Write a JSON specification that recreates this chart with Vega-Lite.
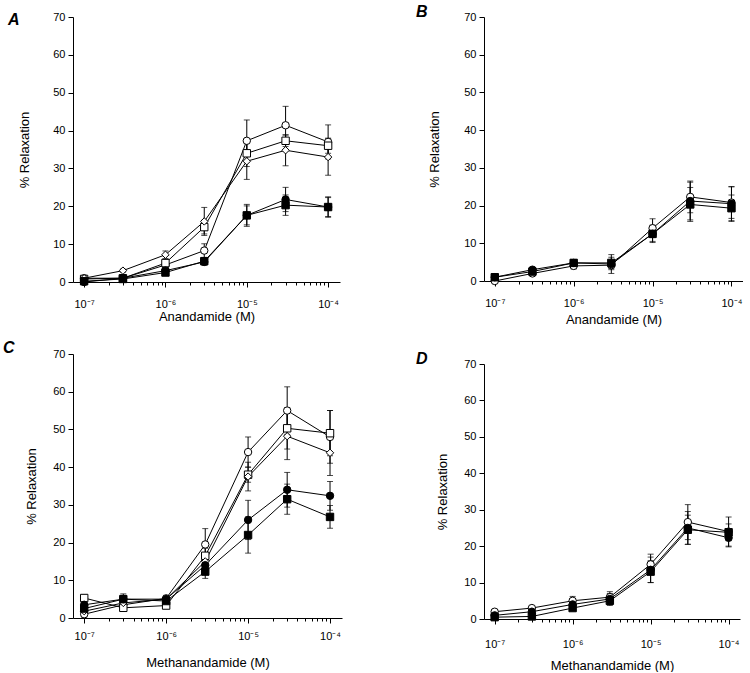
{
"$schema": "https://vega.github.io/schema/vega-lite/v6.json",
"padding": {"left": 3, "top": 4, "right": 0, "bottom": 0},
"background": "white",
"data": {"values": [
{"p":"A","s":"a","x":1e-7,"y":1.0,"lo":0.7,"hi":1.3},
{"p":"A","s":"a","x":3e-7,"y":1.0,"lo":0.6,"hi":1.4},
{"p":"A","s":"a","x":1e-6,"y":4.5,"lo":3.7,"hi":5.3},
{"p":"A","s":"a","x":3e-6,"y":8.3,"lo":6.5,"hi":10.1},
{"p":"A","s":"a","x":1e-5,"y":37.3,"lo":31.8,"hi":42.8},
{"p":"A","s":"a","x":3e-5,"y":41.4,"lo":36.4,"hi":46.4},
{"p":"A","s":"a","x":1e-4,"y":37.0,"lo":32.5,"hi":41.5},
{"p":"A","s":"b","x":1e-7,"y":0.8,"lo":0.5,"hi":1.1},
{"p":"A","s":"b","x":3e-7,"y":1.0,"lo":0.7,"hi":1.3},
{"p":"A","s":"b","x":1e-6,"y":5.0,"lo":4.2,"hi":5.8},
{"p":"A","s":"b","x":3e-6,"y":14.5,"lo":12.7,"hi":16.3},
{"p":"A","s":"b","x":1e-5,"y":34.0,"lo":30.5,"hi":37.5},
{"p":"A","s":"b","x":3e-5,"y":37.3,"lo":35.8,"hi":38.8},
{"p":"A","s":"b","x":1e-4,"y":36.0,"lo":34.0,"hi":38.0},
{"p":"A","s":"c","x":1e-7,"y":1.0,"lo":0.7,"hi":1.3},
{"p":"A","s":"c","x":3e-7,"y":3.0,"lo":2.6,"hi":3.4},
{"p":"A","s":"c","x":1e-6,"y":7.2,"lo":6.2,"hi":8.2},
{"p":"A","s":"c","x":3e-6,"y":16.0,"lo":12.3,"hi":19.7},
{"p":"A","s":"c","x":1e-5,"y":31.9,"lo":27.1,"hi":36.7},
{"p":"A","s":"c","x":3e-5,"y":34.8,"lo":30.7,"hi":38.9},
{"p":"A","s":"c","x":1e-4,"y":33.0,"lo":28.2,"hi":37.8},
{"p":"A","s":"d","x":1e-7,"y":0.0,"lo":0.0,"hi":0.2},
{"p":"A","s":"d","x":3e-7,"y":1.0,"lo":0.7,"hi":1.3},
{"p":"A","s":"d","x":1e-6,"y":3.0,"lo":2.1,"hi":3.9},
{"p":"A","s":"d","x":3e-6,"y":5.3,"lo":4.5,"hi":6.1},
{"p":"A","s":"d","x":1e-5,"y":17.6,"lo":14.7,"hi":20.5},
{"p":"A","s":"d","x":3e-5,"y":21.8,"lo":18.6,"hi":25.0},
{"p":"A","s":"d","x":1e-4,"y":19.8,"lo":17.1,"hi":22.5},
{"p":"A","s":"e","x":1e-7,"y":0.2,"lo":0.0,"hi":0.4},
{"p":"A","s":"e","x":3e-7,"y":0.8,"lo":0.5,"hi":1.1},
{"p":"A","s":"e","x":1e-6,"y":2.5,"lo":1.7,"hi":3.3},
{"p":"A","s":"e","x":3e-6,"y":5.5,"lo":4.7,"hi":6.3},
{"p":"A","s":"e","x":1e-5,"y":17.6,"lo":15.1,"hi":20.1},
{"p":"A","s":"e","x":3e-5,"y":20.3,"lo":17.6,"hi":23.0},
{"p":"A","s":"e","x":1e-4,"y":19.8,"lo":17.3,"hi":22.3},
{"p":"B","s":"a","x":1e-7,"y":0.0,"lo":0.0,"hi":0.3},
{"p":"B","s":"a","x":3e-7,"y":2.0,"lo":1.5,"hi":2.5},
{"p":"B","s":"a","x":1e-6,"y":4.0,"lo":3.2,"hi":4.8},
{"p":"B","s":"a","x":3e-6,"y":4.2,"lo":3.0,"hi":5.4},
{"p":"B","s":"a","x":1e-5,"y":14.0,"lo":11.5,"hi":16.5},
{"p":"B","s":"a","x":3e-5,"y":22.3,"lo":18.1,"hi":26.5},
{"p":"B","s":"a","x":1e-4,"y":20.8,"lo":16.6,"hi":25.0},
{"p":"B","s":"d","x":1e-7,"y":1.0,"lo":0.7,"hi":1.3},
{"p":"B","s":"d","x":3e-7,"y":3.0,"lo":2.5,"hi":3.5},
{"p":"B","s":"d","x":1e-6,"y":4.8,"lo":4.0,"hi":5.6},
{"p":"B","s":"d","x":3e-6,"y":4.5,"lo":2.0,"hi":7.0},
{"p":"B","s":"d","x":1e-5,"y":12.5,"lo":10.2,"hi":14.8},
{"p":"B","s":"d","x":3e-5,"y":21.2,"lo":16.2,"hi":26.2},
{"p":"B","s":"d","x":1e-4,"y":20.5,"lo":16.0,"hi":25.0},
{"p":"B","s":"e","x":1e-7,"y":1.0,"lo":0.7,"hi":1.3},
{"p":"B","s":"e","x":3e-7,"y":2.5,"lo":2.1,"hi":2.9},
{"p":"B","s":"e","x":1e-6,"y":4.8,"lo":4.0,"hi":5.6},
{"p":"B","s":"e","x":3e-6,"y":4.8,"lo":3.3,"hi":6.3},
{"p":"B","s":"e","x":1e-5,"y":12.5,"lo":10.5,"hi":14.5},
{"p":"B","s":"e","x":3e-5,"y":20.3,"lo":15.8,"hi":24.8},
{"p":"B","s":"e","x":1e-4,"y":19.3,"lo":15.8,"hi":22.8},
{"p":"C","s":"a","x":1e-7,"y":1.0,"lo":0.2,"hi":1.8},
{"p":"C","s":"a","x":3e-7,"y":3.5,"lo":2.5,"hi":4.5},
{"p":"C","s":"a","x":1e-6,"y":5.2,"lo":4.4,"hi":6.0},
{"p":"C","s":"a","x":3e-6,"y":19.5,"lo":15.3,"hi":23.7},
{"p":"C","s":"a","x":1e-5,"y":44.0,"lo":40.0,"hi":48.0},
{"p":"C","s":"a","x":3e-5,"y":55.0,"lo":48.7,"hi":61.3},
{"p":"C","s":"a","x":1e-4,"y":48.0,"lo":41.0,"hi":55.0},
{"p":"C","s":"b","x":1e-7,"y":5.3,"lo":4.5,"hi":6.1},
{"p":"C","s":"b","x":3e-7,"y":2.7,"lo":2.1,"hi":3.3},
{"p":"C","s":"b","x":1e-6,"y":3.3,"lo":2.7,"hi":3.9},
{"p":"C","s":"b","x":3e-6,"y":16.5,"lo":14.5,"hi":18.5},
{"p":"C","s":"b","x":1e-5,"y":38.0,"lo":36.0,"hi":40.0},
{"p":"C","s":"b","x":3e-5,"y":50.3,"lo":44.8,"hi":55.8},
{"p":"C","s":"b","x":1e-4,"y":49.0,"lo":43.0,"hi":55.0},
{"p":"C","s":"c","x":1e-7,"y":1.8,"lo":1.2,"hi":2.4},
{"p":"C","s":"c","x":3e-7,"y":4.0,"lo":3.2,"hi":4.8},
{"p":"C","s":"c","x":1e-6,"y":5.0,"lo":4.4,"hi":5.6},
{"p":"C","s":"c","x":3e-6,"y":15.0,"lo":13.0,"hi":17.0},
{"p":"C","s":"c","x":1e-5,"y":37.5,"lo":33.7,"hi":41.3},
{"p":"C","s":"c","x":3e-5,"y":48.2,"lo":42.0,"hi":54.4},
{"p":"C","s":"c","x":1e-4,"y":43.8,"lo":37.8,"hi":49.8},
{"p":"C","s":"d","x":1e-7,"y":3.5,"lo":2.7,"hi":4.3},
{"p":"C","s":"d","x":3e-7,"y":5.0,"lo":3.6,"hi":6.4},
{"p":"C","s":"d","x":1e-6,"y":5.0,"lo":4.4,"hi":5.6},
{"p":"C","s":"d","x":3e-6,"y":14.0,"lo":12.5,"hi":15.5},
{"p":"C","s":"d","x":1e-5,"y":26.0,"lo":20.8,"hi":31.2},
{"p":"C","s":"d","x":3e-5,"y":34.0,"lo":29.4,"hi":38.6},
{"p":"C","s":"d","x":1e-4,"y":32.4,"lo":28.6,"hi":36.2},
{"p":"C","s":"e","x":1e-7,"y":2.5,"lo":1.7,"hi":3.3},
{"p":"C","s":"e","x":3e-7,"y":5.0,"lo":4.0,"hi":6.0},
{"p":"C","s":"e","x":1e-6,"y":4.5,"lo":3.9,"hi":5.1},
{"p":"C","s":"e","x":3e-6,"y":12.3,"lo":10.5,"hi":14.1},
{"p":"C","s":"e","x":1e-5,"y":22.0,"lo":17.2,"hi":26.8},
{"p":"C","s":"e","x":3e-5,"y":31.5,"lo":27.5,"hi":35.5},
{"p":"C","s":"e","x":1e-4,"y":26.8,"lo":23.8,"hi":29.8},
{"p":"D","s":"a","x":1e-7,"y":2.0,"lo":1.7,"hi":2.3},
{"p":"D","s":"a","x":3e-7,"y":3.0,"lo":2.6,"hi":3.4},
{"p":"D","s":"a","x":1e-6,"y":5.0,"lo":3.8,"hi":6.2},
{"p":"D","s":"a","x":3e-6,"y":6.0,"lo":4.5,"hi":7.5},
{"p":"D","s":"a","x":1e-5,"y":15.0,"lo":12.2,"hi":17.8},
{"p":"D","s":"a","x":3e-5,"y":26.6,"lo":21.8,"hi":31.4},
{"p":"D","s":"a","x":1e-4,"y":24.0,"lo":20.0,"hi":28.0},
{"p":"D","s":"d","x":1e-7,"y":1.0,"lo":0.7,"hi":1.3},
{"p":"D","s":"d","x":3e-7,"y":2.0,"lo":1.6,"hi":2.4},
{"p":"D","s":"d","x":1e-6,"y":4.0,"lo":3.2,"hi":4.8},
{"p":"D","s":"d","x":3e-6,"y":5.5,"lo":4.0,"hi":7.0},
{"p":"D","s":"d","x":1e-5,"y":13.5,"lo":10.0,"hi":17.0},
{"p":"D","s":"d","x":3e-5,"y":25.0,"lo":20.5,"hi":29.5},
{"p":"D","s":"d","x":1e-4,"y":22.3,"lo":19.8,"hi":24.8},
{"p":"D","s":"e","x":1e-7,"y":0.5,"lo":0.2,"hi":0.8},
{"p":"D","s":"e","x":3e-7,"y":0.7,"lo":0.4,"hi":1.0},
{"p":"D","s":"e","x":1e-6,"y":3.0,"lo":2.4,"hi":3.6},
{"p":"D","s":"e","x":3e-6,"y":5.0,"lo":3.7,"hi":6.3},
{"p":"D","s":"e","x":1e-5,"y":13.0,"lo":10.0,"hi":16.0},
{"p":"D","s":"e","x":3e-5,"y":24.5,"lo":20.5,"hi":28.5},
{"p":"D","s":"e","x":1e-4,"y":23.8,"lo":21.5,"hi":26.1}
]},
"hconcat": [
{"vconcat": [
{
"width": 267, "height": 265,
"title": {"text": "A", "anchor": "start", "frame": "group", "dx": -65, "dy": 6, "offset": -11, "fontSize": 16, "fontStyle": "italic", "fontWeight": "bold", "font": "Liberation Sans", "color": "black"},
"transform": [{"filter": "datum.p === 'A'"}],
"layer": [
{"mark": {"type": "line", "color": "black", "strokeWidth": 1},
 "encoding": {
  "x": {"field": "x", "type": "quantitative", "scale": {"type": "log", "domain": [7.3e-8, 1.4e-4], "nice": false},
        "axis": {"title": "Anandamide (M)", "values": [1e-7, 1e-6, 1e-5, 1e-4], "labelExpr": "datum.value < 5e-7 ? '10⁻⁷' : datum.value < 5e-6 ? '10⁻⁶' : datum.value < 5e-5 ? '10⁻⁵' : '10⁻⁴'", "labelPadding": 11, "titlePadding": 1}},
  "y": {"field": "y", "type": "quantitative", "scale": {"domain": [0, 70], "nice": false},
        "axis": {"title": "% Relaxation", "values": [0, 10, 20, 30, 40, 50, 60, 70], "titlePadding": 21}},
  "detail": {"field": "s"}}},
{"mark": {"type": "errorbar", "ticks": {"size": 6, "thickness": 1, "color": "black"}, "rule": {"strokeWidth": 1, "color": "black"}},
 "encoding": {
  "x": {"field": "x", "type": "quantitative", "scale": {"type": "log", "domain": [7.3e-8, 1.4e-4], "nice": false}, "axis": null},
  "y": {"field": "lo", "type": "quantitative", "scale": {"domain": [0, 70], "nice": false},
        "axis": {"title": "% Relaxation", "values": [0, 10, 20, 30, 40, 50, 60, 70], "titlePadding": 21}},
  "y2": {"field": "hi"}}},
{"mark": {"type": "point", "filled": true, "stroke": "black", "strokeWidth": 1, "size": 55, "opacity": 1},
 "encoding": {
  "x": {"field": "x", "type": "quantitative", "scale": {"type": "log", "domain": [7.3e-8, 1.4e-4], "nice": false},
        "axis": {"orient": "bottom", "title": null, "labels": false, "domain": false, "tickSize": 3, "values": [2e-7,3e-7,4e-7,5e-7,6e-7,7e-7,8e-7,9e-7,2e-6,3e-6,4e-6,5e-6,6e-6,7e-6,8e-6,9e-6,2e-5,3e-5,4e-5,5e-5,6e-5,7e-5,8e-5,9e-5]}},
  "y": {"field": "y", "type": "quantitative", "scale": {"domain": [0, 70], "nice": false},
        "axis": {"title": "% Relaxation", "values": [0, 10, 20, 30, 40, 50, 60, 70], "titlePadding": 21}},
  "shape": {"field": "s", "type": "nominal", "scale": {"domain": ["a","b","c","d","e"], "range": ["circle","square","diamond","circle","square"]}, "legend": null},
  "fill": {"field": "s", "type": "nominal", "scale": {"domain": ["a","b","c","d","e"], "range": ["white","white","white","black","black"]}, "legend": null}}}
],
"resolve": {"axis": {"x": "independent"}}
},
{
"width": 269, "height": 264,
"title": {"text": "C", "anchor": "start", "frame": "group", "dx": -70, "dy": 1, "offset": -7, "fontSize": 16, "fontStyle": "italic", "fontWeight": "bold", "font": "Liberation Sans", "color": "black"},
"transform": [{"filter": "datum.p === 'C'"}],
"layer": [
{"mark": {"type": "line", "color": "black", "strokeWidth": 1},
 "encoding": {
  "x": {"field": "x", "type": "quantitative", "scale": {"type": "log", "domain": [7.3e-8, 1.4e-4], "nice": false},
        "axis": {"title": "Methanandamide (M)", "values": [1e-7, 1e-6, 1e-5, 1e-4], "labelExpr": "datum.value < 5e-7 ? '10⁻⁷' : datum.value < 5e-6 ? '10⁻⁶' : datum.value < 5e-5 ? '10⁻⁵' : '10⁻⁴'", "labelPadding": 7, "titlePadding": 15}},
  "y": {"field": "y", "type": "quantitative", "scale": {"domain": [0, 70], "nice": false},
        "axis": {"title": "% Relaxation", "values": [0, 10, 20, 30, 40, 50, 60, 70], "titlePadding": 14}},
  "detail": {"field": "s"}}},
{"mark": {"type": "errorbar", "ticks": {"size": 6, "thickness": 1, "color": "black"}, "rule": {"strokeWidth": 1, "color": "black"}},
 "encoding": {
  "x": {"field": "x", "type": "quantitative", "scale": {"type": "log", "domain": [7.3e-8, 1.4e-4], "nice": false}, "axis": null},
  "y": {"field": "lo", "type": "quantitative", "scale": {"domain": [0, 70], "nice": false},
        "axis": {"title": "% Relaxation", "values": [0, 10, 20, 30, 40, 50, 60, 70], "titlePadding": 14}},
  "y2": {"field": "hi"}}},
{"mark": {"type": "point", "filled": true, "stroke": "black", "strokeWidth": 1, "size": 55, "opacity": 1},
 "encoding": {
  "x": {"field": "x", "type": "quantitative", "scale": {"type": "log", "domain": [7.3e-8, 1.4e-4], "nice": false},
        "axis": {"orient": "bottom", "title": null, "labels": false, "domain": false, "tickSize": 3, "values": [2e-7,3e-7,4e-7,5e-7,6e-7,7e-7,8e-7,9e-7,2e-6,3e-6,4e-6,5e-6,6e-6,7e-6,8e-6,9e-6,2e-5,3e-5,4e-5,5e-5,6e-5,7e-5,8e-5,9e-5]}},
  "y": {"field": "y", "type": "quantitative", "scale": {"domain": [0, 70], "nice": false},
        "axis": {"title": "% Relaxation", "values": [0, 10, 20, 30, 40, 50, 60, 70], "titlePadding": 14}},
  "shape": {"field": "s", "type": "nominal", "scale": {"domain": ["a","b","c","d","e"], "range": ["circle","square","diamond","circle","square"]}, "legend": null},
  "fill": {"field": "s", "type": "nominal", "scale": {"domain": ["a","b","c","d","e"], "range": ["white","white","white","black","black"]}, "legend": null}}}
],
"resolve": {"axis": {"x": "independent"}}
}
], "spacing": 72, "bounds": "flush"},
{"vconcat": [
{
"width": 259, "height": 264,
"title": {"text": "B", "anchor": "start", "frame": "group", "dx": -68, "dy": 2, "offset": -7, "fontSize": 16, "fontStyle": "italic", "fontWeight": "bold", "font": "Liberation Sans", "color": "black"},
"transform": [{"filter": "datum.p === 'B'"}],
"layer": [
{"mark": {"type": "line", "color": "black", "strokeWidth": 1},
 "encoding": {
  "x": {"field": "x", "type": "quantitative", "scale": {"type": "log", "domain": [7.3e-8, 1.4e-4], "nice": false},
        "axis": {"title": "Anandamide (M)", "values": [1e-7, 1e-6, 1e-5, 1e-4], "labelExpr": "datum.value < 5e-7 ? '10⁻⁷' : datum.value < 5e-6 ? '10⁻⁶' : datum.value < 5e-5 ? '10⁻⁵' : '10⁻⁴'", "labelPadding": 11, "titlePadding": 5}},
  "y": {"field": "y", "type": "quantitative", "scale": {"domain": [0, 70], "nice": false},
        "axis": {"title": "% Relaxation", "values": [0, 10, 20, 30, 40, 50, 60, 70], "titlePadding": 22}},
  "detail": {"field": "s"}}},
{"mark": {"type": "errorbar", "ticks": {"size": 6, "thickness": 1, "color": "black"}, "rule": {"strokeWidth": 1, "color": "black"}},
 "encoding": {
  "x": {"field": "x", "type": "quantitative", "scale": {"type": "log", "domain": [7.3e-8, 1.4e-4], "nice": false}, "axis": null},
  "y": {"field": "lo", "type": "quantitative", "scale": {"domain": [0, 70], "nice": false},
        "axis": {"title": "% Relaxation", "values": [0, 10, 20, 30, 40, 50, 60, 70], "titlePadding": 22}},
  "y2": {"field": "hi"}}},
{"mark": {"type": "point", "filled": true, "stroke": "black", "strokeWidth": 1, "size": 55, "opacity": 1},
 "encoding": {
  "x": {"field": "x", "type": "quantitative", "scale": {"type": "log", "domain": [7.3e-8, 1.4e-4], "nice": false},
        "axis": {"orient": "bottom", "title": null, "labels": false, "domain": false, "tickSize": 3, "values": [2e-7,3e-7,4e-7,5e-7,6e-7,7e-7,8e-7,9e-7,2e-6,3e-6,4e-6,5e-6,6e-6,7e-6,8e-6,9e-6,2e-5,3e-5,4e-5,5e-5,6e-5,7e-5,8e-5,9e-5]}},
  "y": {"field": "y", "type": "quantitative", "scale": {"domain": [0, 70], "nice": false},
        "axis": {"title": "% Relaxation", "values": [0, 10, 20, 30, 40, 50, 60, 70], "titlePadding": 22}},
  "shape": {"field": "s", "type": "nominal", "scale": {"domain": ["a","b","c","d","e"], "range": ["circle","square","diamond","circle","square"]}, "legend": null},
  "fill": {"field": "s", "type": "nominal", "scale": {"domain": ["a","b","c","d","e"], "range": ["white","white","white","black","black"]}, "legend": null}}}
],
"resolve": {"axis": {"x": "independent"}}
},
{
"width": 256, "height": 255,
"title": {"text": "D", "anchor": "start", "frame": "group", "dx": -68, "dy": 4, "offset": -5, "fontSize": 16, "fontStyle": "italic", "fontWeight": "bold", "font": "Liberation Sans", "color": "black"},
"transform": [{"filter": "datum.p === 'D'"}],
"layer": [
{"mark": {"type": "line", "color": "black", "strokeWidth": 1},
 "encoding": {
  "x": {"field": "x", "type": "quantitative", "scale": {"type": "log", "domain": [7.3e-8, 1.4e-4], "nice": false},
        "axis": {"title": "Methanandamide (M)", "values": [1e-7, 1e-6, 1e-5, 1e-4], "labelExpr": "datum.value < 5e-7 ? '10⁻⁷' : datum.value < 5e-6 ? '10⁻⁶' : datum.value < 5e-5 ? '10⁻⁵' : '10⁻⁴'", "labelPadding": 14, "titlePadding": 10}},
  "y": {"field": "y", "type": "quantitative", "scale": {"domain": [0, 70], "nice": false},
        "axis": {"title": "% Relaxation", "values": [0, 10, 20, 30, 40, 50, 60, 70], "titlePadding": 14}},
  "detail": {"field": "s"}}},
{"mark": {"type": "errorbar", "ticks": {"size": 6, "thickness": 1, "color": "black"}, "rule": {"strokeWidth": 1, "color": "black"}},
 "encoding": {
  "x": {"field": "x", "type": "quantitative", "scale": {"type": "log", "domain": [7.3e-8, 1.4e-4], "nice": false}, "axis": null},
  "y": {"field": "lo", "type": "quantitative", "scale": {"domain": [0, 70], "nice": false},
        "axis": {"title": "% Relaxation", "values": [0, 10, 20, 30, 40, 50, 60, 70], "titlePadding": 14}},
  "y2": {"field": "hi"}}},
{"mark": {"type": "point", "filled": true, "stroke": "black", "strokeWidth": 1, "size": 55, "opacity": 1},
 "encoding": {
  "x": {"field": "x", "type": "quantitative", "scale": {"type": "log", "domain": [7.3e-8, 1.4e-4], "nice": false},
        "axis": {"orient": "bottom", "title": null, "labels": false, "domain": false, "tickSize": 3, "values": [2e-7,3e-7,4e-7,5e-7,6e-7,7e-7,8e-7,9e-7,2e-6,3e-6,4e-6,5e-6,6e-6,7e-6,8e-6,9e-6,2e-5,3e-5,4e-5,5e-5,6e-5,7e-5,8e-5,9e-5]}},
  "y": {"field": "y", "type": "quantitative", "scale": {"domain": [0, 70], "nice": false},
        "axis": {"title": "% Relaxation", "values": [0, 10, 20, 30, 40, 50, 60, 70], "titlePadding": 14}},
  "shape": {"field": "s", "type": "nominal", "scale": {"domain": ["a","b","c","d","e"], "range": ["circle","square","diamond","circle","square"]}, "legend": null},
  "fill": {"field": "s", "type": "nominal", "scale": {"domain": ["a","b","c","d","e"], "range": ["white","white","white","black","black"]}, "legend": null}}}
],
"resolve": {"axis": {"x": "independent"}}
}
], "spacing": 83, "bounds": "flush"}
],
"spacing": 74,
"config": {
 "font": "Liberation Sans",
 "view": {"stroke": null},
 "axis": {"domainColor": "black", "tickColor": "black", "labelColor": "black", "titleColor": "black", "labelFont": "Liberation Sans", "titleFont": "Liberation Sans", "labelFontSize": 11, "titleFontSize": 13, "titleFontWeight": "normal", "grid": false, "tickSize": 5, "domainWidth": 1, "tickWidth": 1, "labelPadding": 3}
}
}
